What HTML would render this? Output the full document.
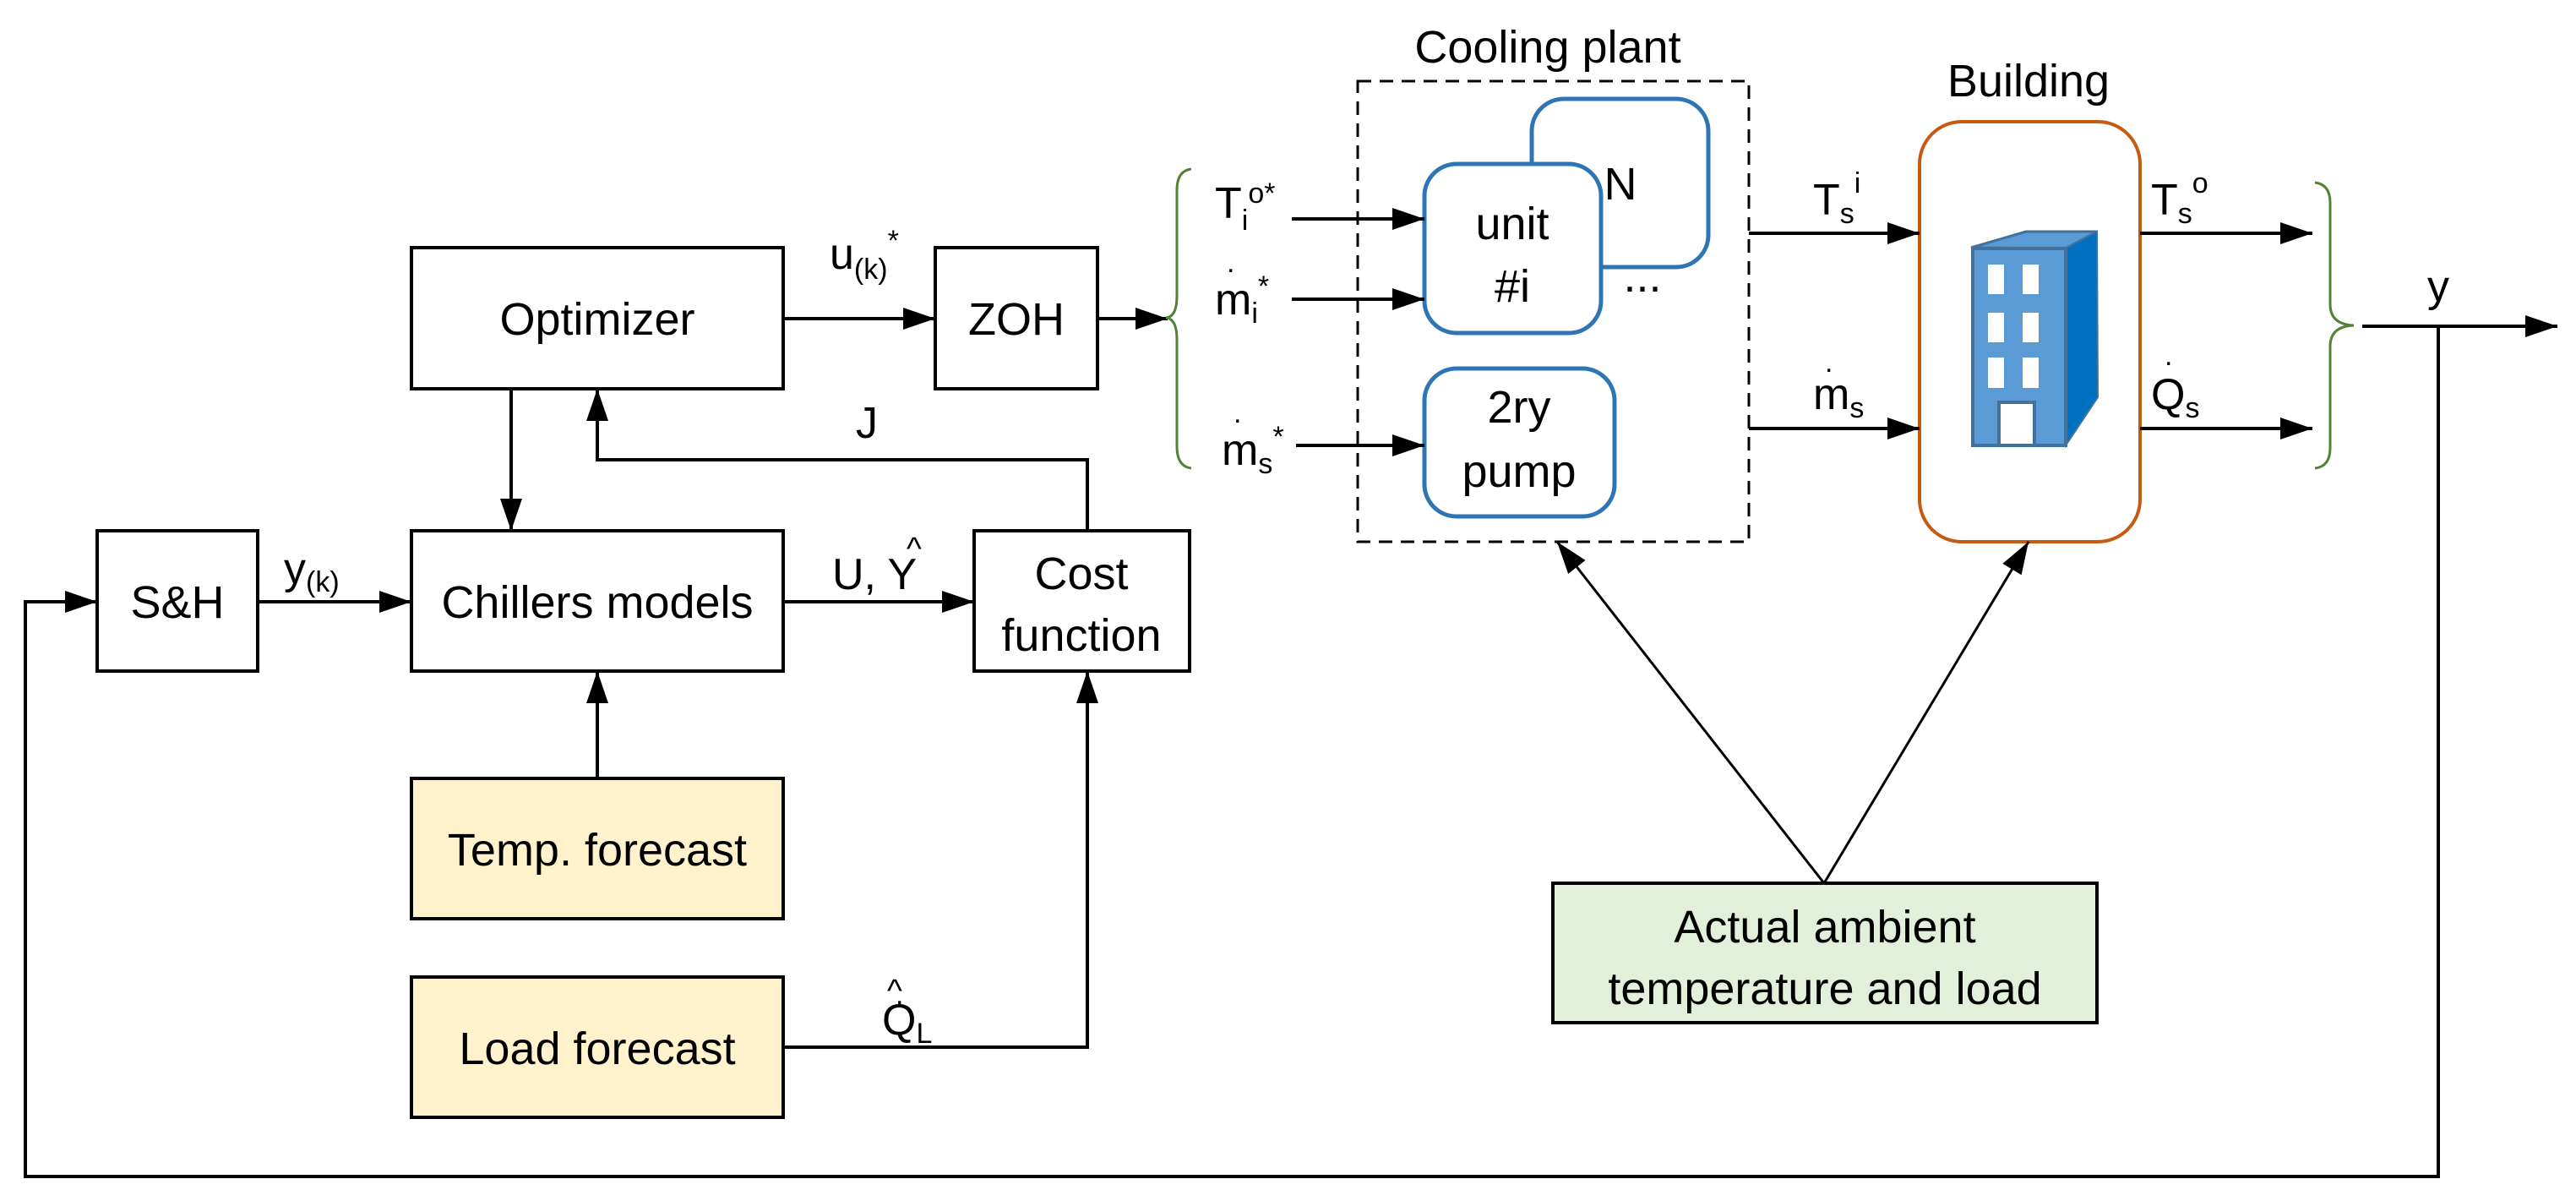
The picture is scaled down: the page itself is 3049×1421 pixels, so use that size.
<!DOCTYPE html>
<html><head><meta charset="utf-8"><style>
html,body{margin:0;padding:0;background:#fff;}
svg{display:block;}
text{font-family:"Liberation Sans",sans-serif;fill:#000;}
</style></head><body>
<svg width="3049" height="1421" viewBox="0 0 3049 1421" xmlns="http://www.w3.org/2000/svg">
<defs>
<marker id="b" viewBox="0 0 10 10" refX="10" refY="5" markerWidth="38" markerHeight="26" markerUnits="userSpaceOnUse" orient="auto" preserveAspectRatio="none"><path d="M0,0 L10,5 L0,10 z" fill="#000"/></marker>
</defs>
<g fill="none" stroke="#000" stroke-width="4">
<rect x="115" y="628" width="190" height="166"/>
<rect x="487" y="293" width="440" height="167"/>
<rect x="1107" y="293" width="192" height="167"/>
<rect x="487" y="628" width="440" height="166"/>
<rect x="1153" y="628" width="255" height="166"/>
<rect x="487" y="921" width="440" height="166" fill="#fff2cc"/>
<rect x="487" y="1156" width="440" height="166" fill="#fff2cc"/>
<rect x="1838" y="1045" width="644" height="165" fill="#e2efda"/>
<rect x="1607" y="96" width="463" height="545" stroke-dasharray="16,10" stroke-width="3"/>
</g>
<g fill="none" stroke="#2e75b6" stroke-width="5">
<rect x="1813" y="117" width="209" height="199" rx="38" fill="#fff"/>
<rect x="1686" y="194" width="209" height="200" rx="38" fill="#fff"/>
<rect x="1686" y="436" width="225" height="175" rx="38"/>
</g>
<rect x="2272" y="144" width="261" height="497" rx="50" fill="none" stroke="#c55a11" stroke-width="4"/>
<polygon points="2333,293 2398,274 2482,274 2445,294" fill="#5b9bd5" stroke="#41719c" stroke-width="3"/>
<polygon points="2445,294 2482,274 2483,470 2445,527" fill="#0070c0" stroke="#41719c" stroke-width="2"/>
<rect x="2335" y="294" width="110" height="233" fill="#5b9bd5" stroke="#41719c" stroke-width="4"/>
<g fill="#fff">
<rect x="2353" y="313" width="19" height="35"/><rect x="2394" y="313" width="19" height="35"/>
<rect x="2353" y="370" width="19" height="35"/><rect x="2394" y="370" width="19" height="35"/>
<rect x="2353" y="423" width="19" height="36"/><rect x="2394" y="423" width="19" height="36"/>
</g>
<rect x="2366" y="476" width="42" height="51" fill="#fff" stroke="#41719c" stroke-width="4"/>
<g fill="none" stroke="#000" stroke-width="4">
<line x1="927" y1="377" x2="1107" y2="377" marker-end="url(#b)"/>
<line x1="1299" y1="377" x2="1382" y2="377" marker-end="url(#b)"/>
<line x1="605" y1="460" x2="605" y2="628" marker-end="url(#b)"/>
<polyline points="1287,628 1287,544 707,544 707,460" marker-end="url(#b)"/>
<line x1="305" y1="712" x2="487" y2="712" marker-end="url(#b)"/>
<line x1="927" y1="712" x2="1153" y2="712" marker-end="url(#b)"/>
<line x1="707" y1="921" x2="707" y2="794" marker-end="url(#b)"/>
<polyline points="927,1239 1287,1239 1287,794" marker-end="url(#b)"/>
<polyline points="2886,386 2886,1392 30,1392 30,712 115,712" marker-end="url(#b)"/>
<line x1="1529" y1="259" x2="1686" y2="259" marker-end="url(#b)"/>
<line x1="1529" y1="354" x2="1686" y2="354" marker-end="url(#b)"/>
<line x1="1534" y1="527" x2="1686" y2="527" marker-end="url(#b)"/>
<line x1="2070" y1="276" x2="2272" y2="276" marker-end="url(#b)"/>
<line x1="2070" y1="507" x2="2272" y2="507" marker-end="url(#b)"/>
<line x1="2533" y1="276" x2="2737" y2="276" marker-end="url(#b)"/>
<line x1="2533" y1="507" x2="2737" y2="507" marker-end="url(#b)"/>
<line x1="2796" y1="386" x2="3027" y2="386" marker-end="url(#b)"/>
</g>
<g fill="none" stroke="#000" stroke-width="3">
<line x1="2159" y1="1045" x2="1843" y2="641" marker-end="url(#b)"/>
<line x1="2159" y1="1045" x2="2401" y2="641" marker-end="url(#b)"/>
</g>
<g fill="none" stroke="#548235" stroke-width="3">
<path d="M1410,200 Q1393,202 1393,225 L1393,350 Q1393,375 1380,376 Q1393,377 1393,402 L1393,528 Q1393,552 1410,554"/>
<path d="M2740,216 Q2758,218 2758,240 L2758,360 Q2758,384 2786,385 Q2758,386 2758,410 L2758,530 Q2758,552 2740,554"/>
</g>
<g font-size="54" text-anchor="middle">
<text x="210" y="731">S&amp;H</text>
<text x="707" y="396">Optimizer</text>
<text x="1203" y="396">ZOH</text>
<text x="707" y="731">Chillers models</text>
<text x="1280" y="697">Cost</text>
<text x="1280" y="770">function</text>
<text x="707" y="1024">Temp. forecast</text>
<text x="707" y="1259">Load forecast</text>
<text x="2160" y="1115">Actual ambient</text>
<text x="2160" y="1188">temperature and load</text>
<text x="1832" y="74">Cooling plant</text>
<text x="2401" y="114">Building</text>
<text x="1790" y="283">unit</text>
<text x="1790" y="357">#i</text>
<text x="1798" y="500">2ry</text>
<text x="1798" y="576">pump</text>
<text x="1918" y="236">N</text>
<text x="1944" y="345">...</text>
</g>
<g font-size="52">
<text x="982" y="318">u<tspan font-size="34" dy="12">(k)</tspan><tspan font-size="34" dy="-34">*</tspan></text>
<text x="1013" y="518">J</text>
<text x="985" y="697">U, Y</text><text x="1073" y="662" font-size="38">^</text>
<text x="336" y="690">y<tspan font-size="34" dy="10">(k)</tspan></text>
<text x="1044" y="1224">Q<tspan font-size="34" dy="10">L</tspan></text><text x="1050" y="1185" font-size="38">^</text><text x="1060" y="1188" font-size="34">.</text>
<text x="1438" y="258">T<tspan font-size="34" dy="14">i</tspan><tspan font-size="34" dy="-32">o*</tspan></text>
<text x="1438" y="372">m<tspan font-size="34" dy="10">i</tspan><tspan font-size="34" dy="-32">*</tspan></text><text x="1452" y="322" font-size="34">.</text>
<text x="1446" y="550">m<tspan font-size="34" dy="10">s</tspan><tspan font-size="34" dy="-32">*</tspan></text><text x="1460" y="500" font-size="34">.</text>
<text x="2146" y="254">T<tspan font-size="34" dy="10">s</tspan><tspan font-size="34" dy="-36">i</tspan></text>
<text x="2146" y="484">m<tspan font-size="34" dy="10">s</tspan></text><text x="2160" y="440" font-size="34">.</text>
<text x="2546" y="254">T<tspan font-size="34" dy="10">s</tspan><tspan font-size="34" dy="-36">o</tspan></text>
<text x="2546" y="484">Q<tspan font-size="34" dy="10">s</tspan></text><text x="2562" y="432" font-size="34">.</text>
<text x="2873" y="356">y</text>
</g>
</svg>
</body></html>
